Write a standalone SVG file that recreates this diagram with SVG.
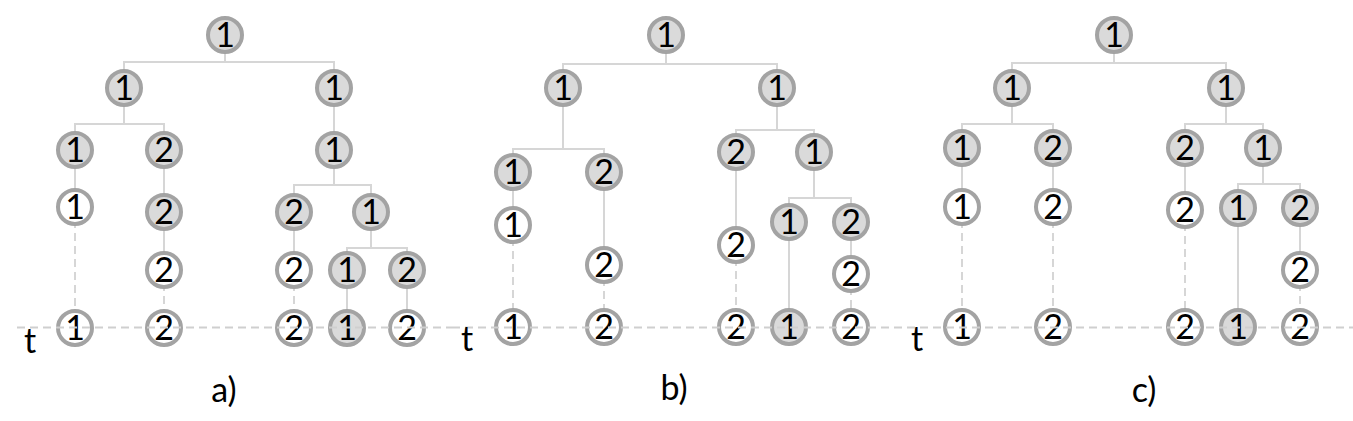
<svg xmlns="http://www.w3.org/2000/svg" width="1353" height="421" viewBox="0 0 1353 421">
<style>
.n circle{stroke:#a3a3a3;stroke-width:4}
.f circle{fill:#dadada}
.w circle{fill:#ffffff}
.n text{font-family:Lato,"Liberation Sans",sans-serif;font-size:34px;fill:#000;text-anchor:middle}
.s{fill:none;stroke:#d6d6d6;stroke-width:2}
.d{fill:none;stroke:#d6d6d6;stroke-width:2;stroke-dasharray:8 5}
.t{fill:none;stroke:#cfcfcf;stroke-width:2;stroke-dasharray:8 5}
.lbl{font-family:Lato,"Liberation Sans",sans-serif;font-size:34px;fill:#000}
</style>
<rect width="1353" height="421" fill="#fff"/>
<g id="connectors">
<path class="s" d="M225,35V62H124V88M225,62H334V88"/>
<path class="s" d="M124,88V124H75V150M124,124H164V150"/>
<path class="s" d="M334,88V150"/>
<path class="s" d="M334,150V185H294V212M334,185H371V212"/>
<path class="s" d="M75,150V207"/>
<path class="d" d="M75,207V328"/>
<path class="s" d="M164,150V270"/>
<path class="d" d="M164,270V328"/>
<path class="s" d="M294,212V270"/>
<path class="d" d="M294,270V328"/>
<path class="s" d="M371,212V248H347V270M371,248H407V270"/>
<path class="s" d="M347,270V328M407,270V328"/>
<path class="s" d="M666,35V64H563V88M666,64H777V88"/>
<path class="s" d="M563,88V149H513V172M563,149H604V172"/>
<path class="s" d="M777,88V130H736V152M777,130H814V152"/>
<path class="s" d="M814,152V198H789V222M814,198H851V222"/>
<path class="s" d="M513,172V225"/>
<path class="d" d="M513,225V327"/>
<path class="s" d="M604,172V265"/>
<path class="d" d="M604,265V327"/>
<path class="s" d="M736,152V245"/>
<path class="d" d="M736,245V327"/>
<path class="s" d="M789,222V327"/>
<path class="s" d="M851,222V274"/>
<path class="d" d="M851,274V327"/>
<path class="s" d="M1114,35V63H1012V88M1114,63H1226V88"/>
<path class="s" d="M1012,88V124H962V148M1012,124H1053V148"/>
<path class="s" d="M1226,88V124H1185V148M1226,124H1263V148"/>
<path class="s" d="M1263,148V184H1238V208M1263,184H1300V208"/>
<path class="s" d="M962,148V207M1053,148V207M1185,148V210"/>
<path class="d" d="M962,207V327M1053,207V327M1185,210V327"/>
<path class="s" d="M1238,208V327"/>
<path class="s" d="M1300,208V270"/>
<path class="d" d="M1300,270V327"/>
</g>
<g id="nodes">
<g id="a1" class="n f"><circle cx="225" cy="35" r="17"/><text x="225" y="47">1</text></g>
<g id="a2" class="n f"><circle cx="124" cy="88" r="17"/><text x="124" y="100">1</text></g>
<g id="a3" class="n f"><circle cx="334" cy="88" r="17"/><text x="334" y="100">1</text></g>
<g id="a4" class="n f"><circle cx="75" cy="150" r="17"/><text x="75" y="162">1</text></g>
<g id="a5" class="n f"><circle cx="164" cy="150" r="17"/><text x="164" y="162">2</text></g>
<g id="a6" class="n f"><circle cx="334" cy="150" r="17"/><text x="334" y="162">1</text></g>
<g id="a7" class="n w"><circle cx="75" cy="207" r="17"/><text x="75" y="219">1</text></g>
<g id="a8" class="n f"><circle cx="164" cy="212" r="17"/><text x="164" y="224">2</text></g>
<g id="a9" class="n f"><circle cx="294" cy="212" r="17"/><text x="294" y="224">2</text></g>
<g id="a10" class="n f"><circle cx="371" cy="212" r="17"/><text x="371" y="224">1</text></g>
<g id="a11" class="n w"><circle cx="164" cy="270" r="17"/><text x="164" y="282">2</text></g>
<g id="a12" class="n w"><circle cx="294" cy="270" r="17"/><text x="294" y="282">2</text></g>
<g id="a13" class="n f"><circle cx="347" cy="270" r="17"/><text x="347" y="282">1</text></g>
<g id="a14" class="n f"><circle cx="407" cy="270" r="17"/><text x="407" y="282">2</text></g>
<g id="a15" class="n w"><circle cx="75" cy="328" r="17"/><text x="75" y="340">1</text></g>
<g id="a16" class="n w"><circle cx="164" cy="328" r="17"/><text x="164" y="340">2</text></g>
<g id="a17" class="n w"><circle cx="294" cy="328" r="17"/><text x="294" y="340">2</text></g>
<g id="a18" class="n f"><circle cx="347" cy="328" r="17"/><text x="347" y="340">1</text></g>
<g id="a19" class="n w"><circle cx="407" cy="328" r="17"/><text x="407" y="340">2</text></g>

<g id="b1" class="n f"><circle cx="666" cy="35" r="17"/><text x="666" y="47">1</text></g>
<g id="b2" class="n f"><circle cx="563" cy="88" r="17"/><text x="563" y="100">1</text></g>
<g id="b3" class="n f"><circle cx="777" cy="88" r="17"/><text x="777" y="100">1</text></g>
<g id="b4" class="n f"><circle cx="513" cy="172" r="17"/><text x="513" y="184">1</text></g>
<g id="b5" class="n f"><circle cx="604" cy="172" r="17"/><text x="604" y="184">2</text></g>
<g id="b6" class="n f"><circle cx="736" cy="152" r="17"/><text x="736" y="164">2</text></g>
<g id="b7" class="n f"><circle cx="814" cy="152" r="17"/><text x="814" y="164">1</text></g>
<g id="b8" class="n w"><circle cx="513" cy="225" r="17"/><text x="513" y="237">1</text></g>
<g id="b9" class="n w"><circle cx="604" cy="265" r="17"/><text x="604" y="277">2</text></g>
<g id="b10" class="n w"><circle cx="736" cy="245" r="17"/><text x="736" y="257">2</text></g>
<g id="b11" class="n f"><circle cx="789" cy="222" r="17"/><text x="789" y="234">1</text></g>
<g id="b12" class="n f"><circle cx="851" cy="222" r="17"/><text x="851" y="234">2</text></g>
<g id="b13" class="n w"><circle cx="851" cy="274" r="17"/><text x="851" y="286">2</text></g>
<g id="b14" class="n w"><circle cx="513" cy="327" r="17"/><text x="513" y="339">1</text></g>
<g id="b15" class="n w"><circle cx="604" cy="327" r="17"/><text x="604" y="339">2</text></g>
<g id="b16" class="n w"><circle cx="736" cy="327" r="17"/><text x="736" y="339">2</text></g>
<g id="b17" class="n f"><circle cx="789" cy="327" r="17"/><text x="789" y="339">1</text></g>
<g id="b18" class="n w"><circle cx="851" cy="327" r="17"/><text x="851" y="339">2</text></g>

<g id="c1" class="n f"><circle cx="1114" cy="35" r="17"/><text x="1114" y="47">1</text></g>
<g id="c2" class="n f"><circle cx="1012" cy="88" r="17"/><text x="1012" y="100">1</text></g>
<g id="c3" class="n f"><circle cx="1226" cy="88" r="17"/><text x="1226" y="100">1</text></g>
<g id="c4" class="n f"><circle cx="962" cy="148" r="17"/><text x="962" y="160">1</text></g>
<g id="c5" class="n f"><circle cx="1053" cy="148" r="17"/><text x="1053" y="160">2</text></g>
<g id="c6" class="n f"><circle cx="1185" cy="148" r="17"/><text x="1185" y="160">2</text></g>
<g id="c7" class="n f"><circle cx="1263" cy="148" r="17"/><text x="1263" y="160">1</text></g>
<g id="c8" class="n w"><circle cx="962" cy="207" r="17"/><text x="962" y="219">1</text></g>
<g id="c9" class="n w"><circle cx="1053" cy="207" r="17"/><text x="1053" y="219">2</text></g>
<g id="c10" class="n w"><circle cx="1185" cy="210" r="17"/><text x="1185" y="222">2</text></g>
<g id="c11" class="n f"><circle cx="1238" cy="208" r="17"/><text x="1238" y="220">1</text></g>
<g id="c12" class="n f"><circle cx="1300" cy="208" r="17"/><text x="1300" y="220">2</text></g>
<g id="c13" class="n w"><circle cx="1300" cy="270" r="17"/><text x="1300" y="282">2</text></g>
<g id="c14" class="n w"><circle cx="962" cy="327" r="17"/><text x="962" y="339">1</text></g>
<g id="c15" class="n w"><circle cx="1053" cy="327" r="17"/><text x="1053" y="339">2</text></g>
<g id="c16" class="n w"><circle cx="1185" cy="327" r="17"/><text x="1185" y="339">2</text></g>
<g id="c17" class="n f"><circle cx="1238" cy="327" r="17"/><text x="1238" y="339">1</text></g>
<g id="c18" class="n w"><circle cx="1300" cy="327" r="17"/><text x="1300" y="339">2</text></g>
</g>
<g id="time-axes">
<path class="t" d="M17,327.5H452"/>
<path class="t" d="M452,327.5H907"/>
<path class="t" d="M907,327.5H1353"/>
</g>
<g id="labels">
<text class="lbl" x="24" y="353">t</text>
<text class="lbl" x="461" y="351">t</text>
<text class="lbl" x="911" y="351">t</text>
<text class="lbl" x="224" y="402" text-anchor="middle">a)</text>
<text class="lbl" x="674" y="400" text-anchor="middle">b)</text>
<text class="lbl" x="1144" y="402" text-anchor="middle">c)</text>
</g>
</svg>
